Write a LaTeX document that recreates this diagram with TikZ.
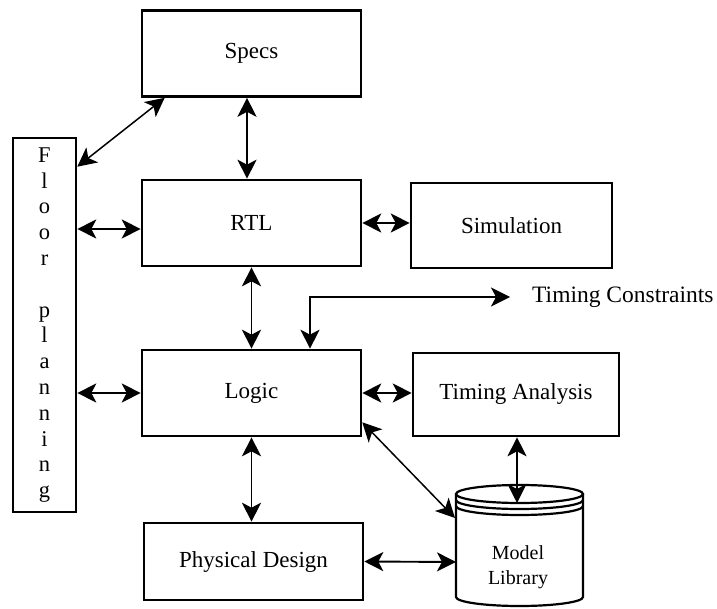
\documentclass[tikz,border=0pt]{standalone}
\usepackage{fontspec}
\setmainfont{Liberation Serif}
\usetikzlibrary{arrows.meta,positioning,calc}

\tikzset{
  blk/.style={draw, line width=2.6pt, minimum width=219pt, minimum height=86pt,
    inner sep=0pt, font=\fontsize{23}{28}\selectfont},
  dbl/.style={{Stealth[length=19pt,width=19pt,inset=5pt]}-{Stealth[length=19pt,width=19pt,inset=5pt]},
    line width=1.9pt},
  cyl/.style={line width=2.2pt}
}

\begin{document}
\begin{tikzpicture}[x=1pt,y=-1pt]
  \useasboundingbox (0,0) rectangle (717,609);

  % boxes
  \node[blk] (specs) at (251.5,53.5) {Specs};
  \node[blk] (rtl) at (251.5,223) {RTL};
  \node[blk, minimum width=201pt, minimum height=85pt] (sim) at (511.5,225.5) {Simulation};
  \node[blk] (logic) at (251.5,393) {Logic};
  \node[blk, minimum width=206pt, minimum height=83pt] (tana) at (516,394.5) {Timing Analysis};
  \node[blk, minimum height=77pt] (phys) at (253.5,561.5) {Physical Design};
  \node[blk, minimum width=63pt, minimum height=374pt, align=center,
    font=\fontsize{22.5}{25.8}\selectfont] (floor) at (44.5,325)
    {F\\l\\o\\o\\r\\~\\p\\l\\a\\n\\n\\i\\n\\g};
  \node[anchor=west, inner sep=0pt, font=\fontsize{23.5}{28}\selectfont] (tcons) at (532,297)
    {Timing Constraints};

  % model library
  \draw[cyl, fill=white] (456,494) -- (456,597)
    arc[start angle=180, end angle=0, x radius=63.5, y radius=9] -- (583,494);
  \draw[cyl] (519.5,494) ellipse [x radius=63.5, y radius=9];
  \draw[cyl] (456,500) arc[start angle=180, end angle=0, x radius=63.5, y radius=9];
  \draw[cyl] (456,506) arc[start angle=180, end angle=0, x radius=63.5, y radius=9];
  \node[align=center, font=\fontsize{20}{25}\selectfont] (lib) at (518,567) {Model\\Library};
  \coordinate (libtop) at (517,503);
  \coordinate (libleft) at (456,562);
  \coordinate (libcorner) at (455,518);

  % connectors
  \draw[dbl, line width=1.5pt] ([xshift=24pt]specs.south west) -- ([yshift=-30pt]floor.north east);
  \draw[dbl] ([xshift=-4.5pt]specs.south) -- ([xshift=-4.5pt]rtl.north);
  \draw[dbl] ([yshift=-6pt]floor.east |- rtl.west) -- ([yshift=-6pt]rtl.west);
  \draw[dbl] (rtl.east) -- (rtl.east -| sim.west);
  \draw[dbl] (rtl.south) -- (logic.north);
  \draw[dbl] ([xshift=-22pt]tcons.west) -| ([xshift=58.5pt]logic.north);
  \draw[dbl] (floor.east |- logic.west) -- (logic.west);
  \draw[dbl] (logic.east) -- (logic.east -| tana.west);
  \draw[dbl, line width=1.5pt] ([yshift=15pt]logic.south east) -- (libcorner);
  \draw[dbl] (libtop |- tana.south) -- (libtop);
  \draw[dbl] (logic.south) -- (logic.south |- phys.north);
  \draw[dbl] (phys.east) -- (libleft);
\end{tikzpicture}
\end{document}
